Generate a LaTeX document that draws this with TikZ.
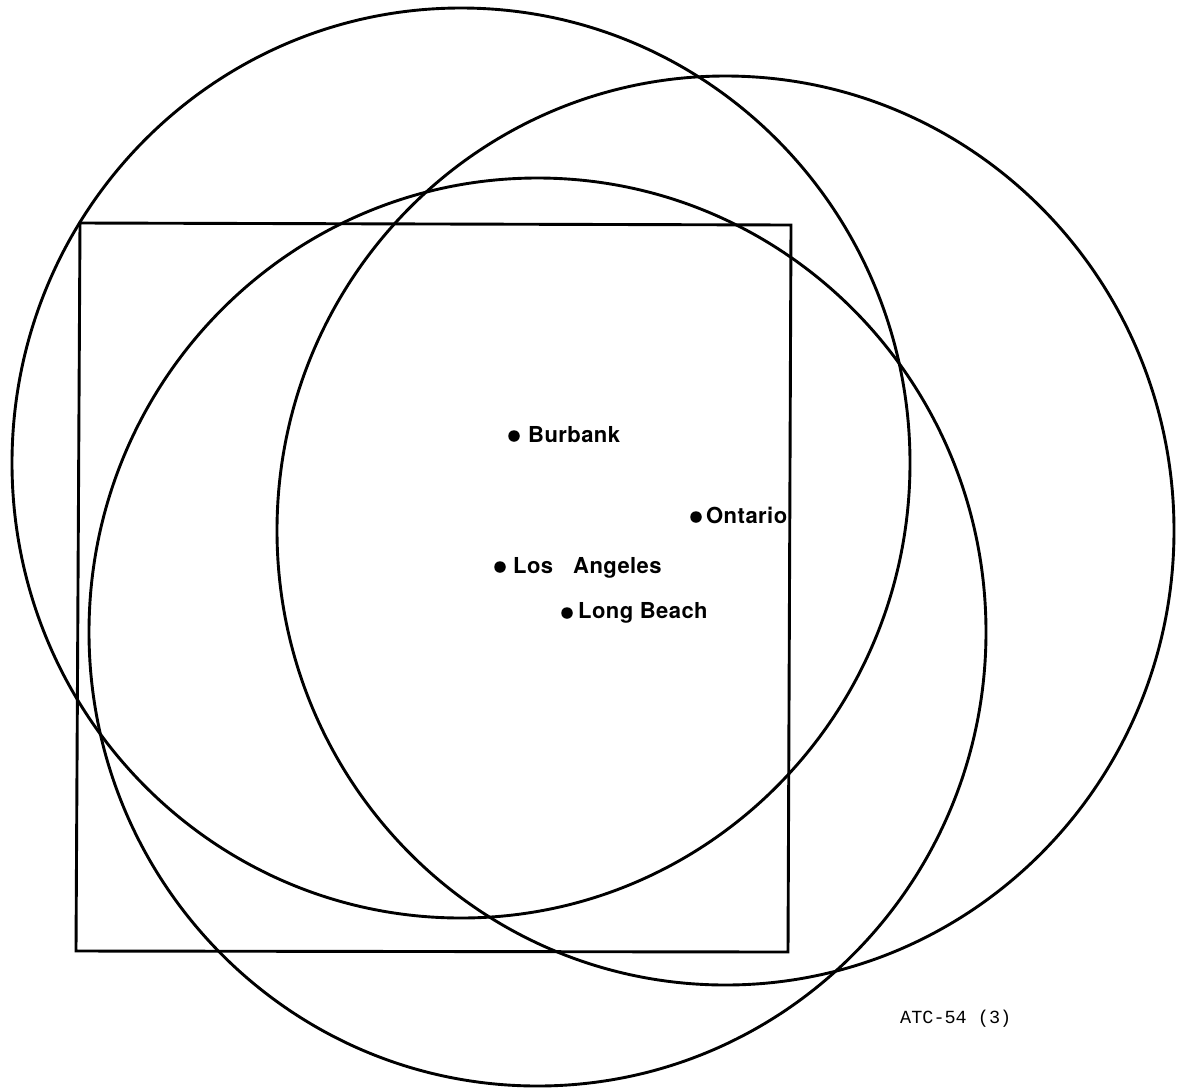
\documentclass[tikz,border=0pt]{standalone}
\usepackage{fontspec}
\setmainfont{TeX Gyre Heros}[LetterSpace=2]
\newfontfamily\tyfont{Liberation Mono}
\begin{document}
\begin{tikzpicture}[x=1pt,y=-1pt,
  ring/.style={draw=black,line width=2.9pt},
  frame/.style={draw=black,line width=2.9pt,line join=miter},
  dot/.style={circle,fill=black,inner sep=0pt,minimum size=11.5pt},
  lbl/.style={anchor=base west,inner sep=0pt,font=\bfseries\fontsize{22}{26}\selectfont},
  tag/.style={anchor=base west,inner sep=0pt,font=\tyfont\fontsize{18.5}{22}\selectfont}]
\useasboundingbox[fill=white] (0,0) rectangle (1180,1088);
% coverage rings
\draw[ring] (461,463) ellipse [x radius=449,y radius=455];
\draw[ring] (725.5,530.5) ellipse [x radius=448.5,y radius=454.5];
\draw[ring] (537.5,632) ellipse [x radius=448.5,y radius=454];
% square region
\draw[frame] (80,223) -- (791,225) -- (788,952) -- (76,951) -- cycle;
% airports
\node[dot] (bur) at (514,436) {};
\node[lbl] (burl) at (528,442) {Burbank};
\node[dot] (ont) at (696,517) {};
\node[lbl] (ontl) at (706,523) {Ontario};
\node[dot] (lax) at (500,567) {};
\node[lbl] (laxl) at (513,573) {Los\hspace*{20pt}Angeles};
\node[dot] (lgb) at (567,613) {};
\node[lbl] (lgbl) at (578,618) {Long Beach};
% figure tag
\node[tag] (atc) at (900,1023) {ATC-54 (3)};
\end{tikzpicture}
\end{document}
